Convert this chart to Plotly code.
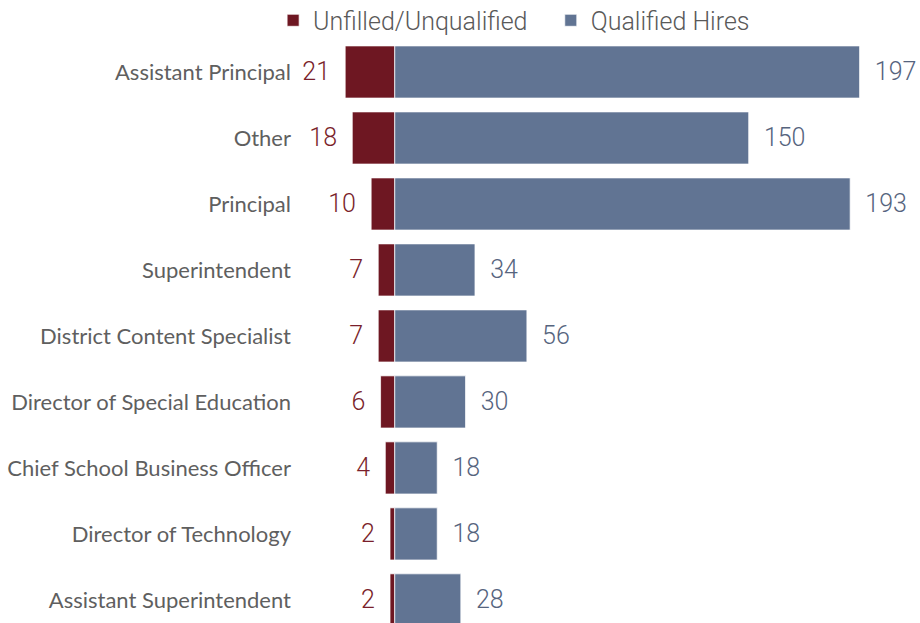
import plotly.graph_objects as go

roles = ['Assistant Principal', 'Other', 'Principal', 'Superintendent',
         'District Content Specialist', 'Director of Special Education',
         'Chief School Business Officer', 'Director of Technology',
         'Assistant Superintendent']
unfilled = [21, 18, 10, 7, 7, 6, 4, 2, 2]
qualified = [197, 150, 193, 34, 56, 30, 18, 18, 28]

red = '#6e1722'
blue = '#617493'

fig = go.Figure(
    data=[
        go.Bar(
            y=roles,
            x=[-v for v in unfilled],
            orientation='h',
            name='Unfilled/Unqualified   ',
            text=[str(v) + '  ' for v in unfilled],
            textposition='outside',
            textfont={'family': 'Roboto', 'size': 25, 'color': '#7a1f2b', 'weight': 300},
            cliponaxis=False,
            marker={'color': red, 'line': {'color': 'rgba(255,255,255,0.7)', 'width': 1}},
            hoverinfo='skip',
        ),
        go.Bar(
            y=roles,
            x=qualified,
            orientation='h',
            name='Qualified Hires',
            text=['  ' + str(v) for v in qualified],
            textposition='outside',
            textfont={'family': 'Roboto', 'size': 25, 'color': '#56647e', 'weight': 300},
            cliponaxis=False,
            marker={'color': blue, 'line': {'color': 'rgba(255,255,255,0.7)', 'width': 1}},
            hoverinfo='skip',
        ),
    ],
    layout=go.Layout(
        width=920,
        height=623,
        barmode='relative',
        bargap=0.21,
        plot_bgcolor='white',
        paper_bgcolor='white',
        margin=go.layout.Margin(l=298, r=0, t=39, b=0, autoexpand=False),
        xaxis={'range': [-41, 222.6], 'visible': False, 'fixedrange': True},
        yaxis={
            'range': [8.35, -0.5],
            'showgrid': False,
            'showline': False,
            'ticks': '',
            'ticklabelstandoff': 6,
            'tickfont': {'family': 'Lato', 'size': 22, 'color': '#5f5f5f'},
        },
        showlegend=True,
        legend={
            'orientation': 'h',
            'x': -0.04,
            'xanchor': 'left',
            'y': 1.071,
            'yanchor': 'top',
            'bgcolor': 'rgba(0,0,0,0)',
            'font': {'family': 'Roboto', 'size': 25, 'color': '#595959', 'weight': 300},
            'itemwidth': 30,
            'traceorder': 'normal',
        },
    ),
)

# the page body has an 8px default margin; remove it so the figure fills the window
fig.write_html('out.html', config={'displayModeBar': False},
               post_script="document.body.style.margin='0';")
